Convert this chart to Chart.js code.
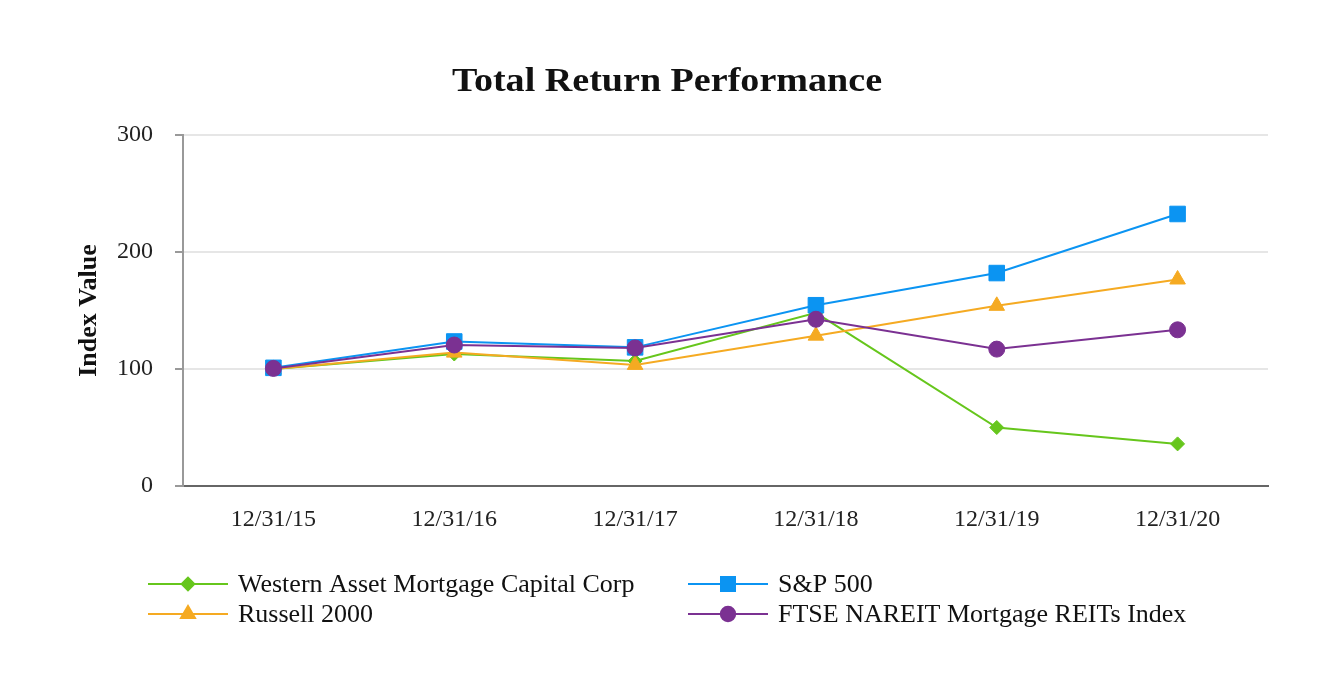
<!DOCTYPE html>
<html lang="en">
<head>
<meta charset="UTF-8">
<title>Total Return Performance</title>
<script src="https://cdn.jsdelivr.net/npm/chart.js"></script>
<style>
  body { margin: 0; background: #fff; }
  #wrap { width: 1332px; height: 700px; }
</style>
</head>
<body>
<div id="wrap"><canvas id="perfChart" width="1332" height="700"></canvas></div>
<script>
// values
const years = ['12/31/15', '12/31/16', '12/31/17', '12/31/18', '12/31/19', '12/31/20'];
const westernAsset = [100, 112.8, 106.8, 148, 50, 36];
const russell2000 = [100, 114, 103.5, 128.5, 154, 176.5];
const sp500 = [101, 123.5, 118.5, 154.5, 182, 232.5];
const ftseNareit = [100.5, 120.5, 118, 142.5, 117, 133.5];
const yTicks = [0, 100, 200, 300];

const serif = '"Liberation Serif", "Times New Roman", serif';

const series = [
    { label: 'Western Asset Mortgage Capital Corp', data: westernAsset, color: '#66c61c', style: 'rectRot', radius: 7, order: 3 },
    { label: 'Russell 2000', data: russell2000, color: '#f5aa22', style: 'triangle', radius: 9, order: 2 },
    { label: 'S&P 500', data: sp500, color: '#0b94f2', style: 'rect', radius: 11, order: 1 },
    { label: 'FTSE NAREIT Mortgage REITs Index', data: ftseNareit, color: '#7b3192', style: 'circle', radius: 8, order: 0 }
];

// legend slots: column x of the line start, row y
const legendSlots = [[148, 584], [148, 614], [688, 584], [688, 614]];

function drawMarker(ctx, s, x, y, r) {
    const opts = { pointStyle: s.style, radius: r, borderWidth: 1 };
    ctx.fillStyle = s.color;
    ctx.strokeStyle = s.color;
    if (Chart.helpers && Chart.helpers.drawPoint) {
        Chart.helpers.drawPoint(ctx, opts, x, y);
    } else {
        ctx.beginPath();
        ctx.arc(x, y, r, 0, Math.PI * 2);
        ctx.fill();
    }
}

// text a little wider than the font gives, as in the reference
function stretchedText(ctx, text, x, y, sx) {
    ctx.save();
    ctx.translate(x, y);
    ctx.scale(sx, 1);
    ctx.fillText(text, 0, 0);
    ctx.restore();
}

const titleAndLegend = {
    id: 'titleAndLegend',
    afterDraw(chart) {
        const ctx = chart.ctx;
        ctx.save();
        ctx.fillStyle = '#111';
        ctx.font = 'bold 34px ' + serif;
        ctx.textAlign = 'center';
        ctx.textBaseline = 'middle';
        stretchedText(ctx, 'Total Return Performance', 667, 82, 1.12);

        ctx.font = '25px ' + serif;
        ctx.textAlign = 'left';
        series.forEach((s, i) => {
            const [x, y] = legendSlots[i];
            ctx.strokeStyle = s.color;
            ctx.lineWidth = 2;
            ctx.beginPath();
            ctx.moveTo(x, y);
            ctx.lineTo(x + 80, y);
            ctx.stroke();
            drawMarker(ctx, s, x + 40, y, s.radius * 0.9);
            ctx.fillStyle = '#111';
            stretchedText(ctx, s.label, x + 90, y + 1, 1.04);
        });
        ctx.restore();
    }
};

const ctx = document.getElementById('perfChart').getContext('2d');
new Chart(ctx, {
    type: 'line',
    data: {
        labels: years,
        datasets: series.map(s => ({
            label: s.label,
            data: s.data,
            borderColor: s.color,
            backgroundColor: s.color,
            borderWidth: 2,
            pointStyle: s.style,
            pointRadius: s.radius,
            pointBorderWidth: 1,
            pointHoverRadius: s.radius,
            tension: 0,
            order: s.order
        }))
    },
    options: {
        responsive: false,
        animation: false,
        layout: { padding: { top: 135, right: 64, bottom: 164, left: 0 } },
        plugins: {
            legend: { display: false },
            title: { display: false },
            tooltip: { enabled: false }
        },
        scales: {
            x: {
                offset: true,
                grid: { display: false, drawTicks: false },
                border: { display: true, color: '#666', width: 2 },
                ticks: { color: '#222', padding: 19, font: { family: serif, size: 24 } },
                afterFit(scale) { scale.height = 50; }
            },
            y: {
                min: 0,
                max: 300,
                afterBuildTicks(scale) { scale.ticks = yTicks.map(v => ({ value: v })); },
                grid: { color: '#e6e6e6', lineWidth: 2, tickColor: '#999', tickLength: 8 },
                border: { display: true, color: '#999', width: 2 },
                ticks: { color: '#222', padding: 22, font: { family: serif, size: 24 } },
                title: {
                    display: true,
                    text: 'Index Value',
                    color: '#111',
                    font: { family: serif, size: 26, weight: 'bold' },
                    padding: { top: 74, bottom: 0 }
                },
                afterFit(scale) { scale.width = 183; }
            }
        }
    },
    plugins: [titleAndLegend]
});
</script>
</body>
</html>
